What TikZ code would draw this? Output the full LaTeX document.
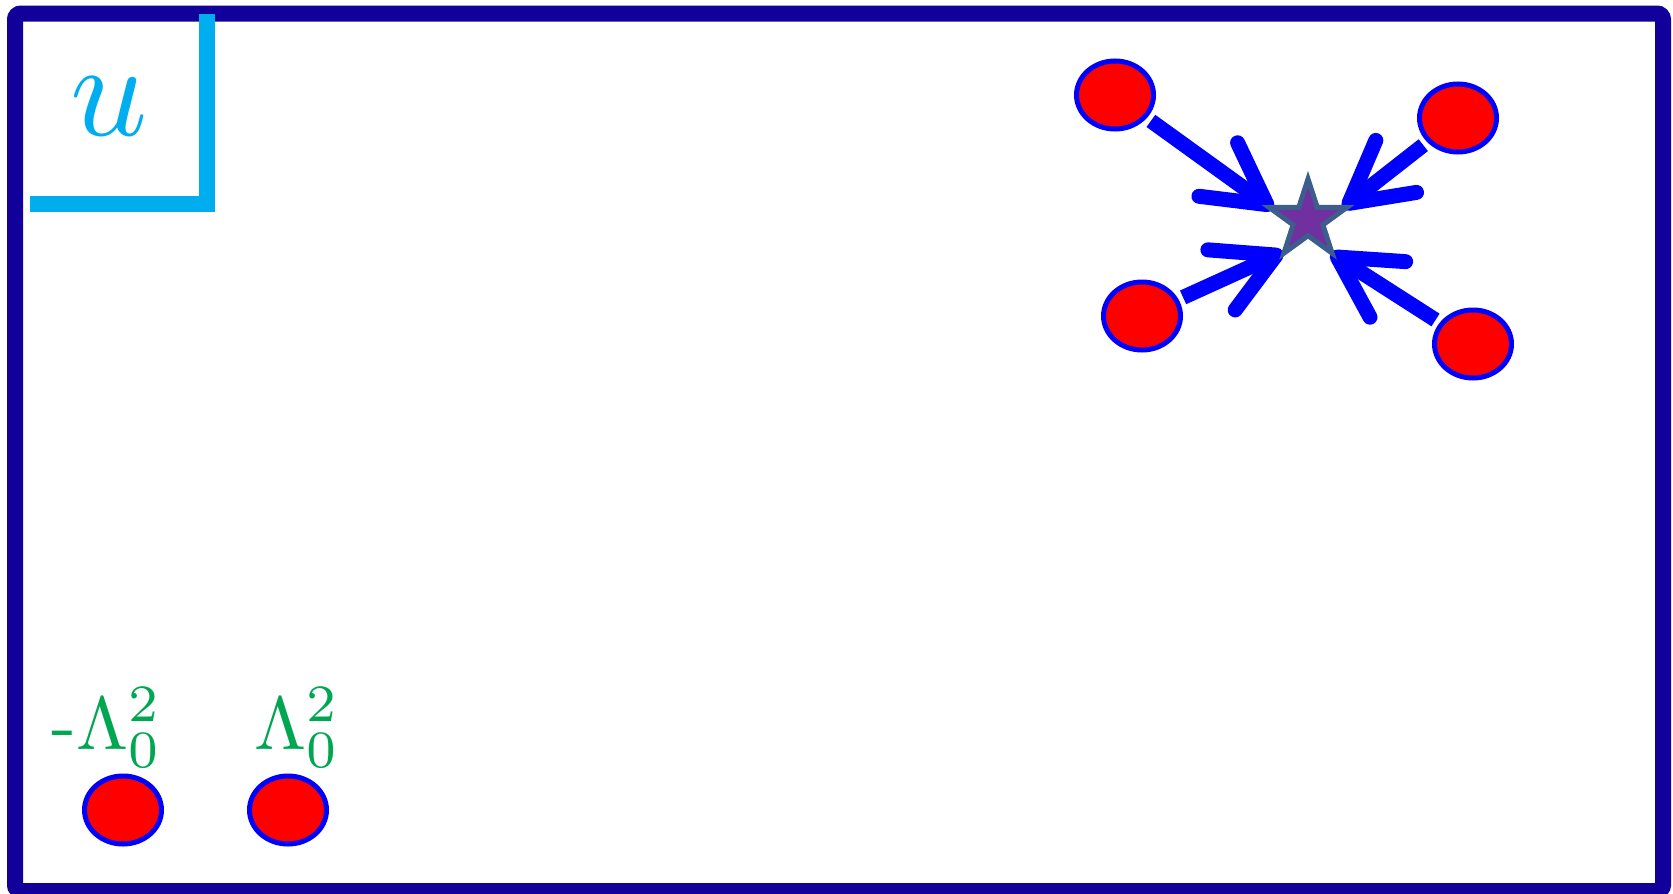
\documentclass[tikz,border=0pt]{standalone}
\usetikzlibrary{arrows.meta,shapes.geometric}
\definecolor{framecol}{RGB}{17,0,153}
\definecolor{cyanL}{RGB}{0,174,239}
\definecolor{lblgreen}{RGB}{0,166,81}
\definecolor{starfill}{RGB}{112,48,160}
\definecolor{starline}{RGB}{61,93,140}
\tikzset{
  dot/.style={ellipse,draw=blue,fill=red,line width=5pt,minimum width=77pt,minimum height=68pt,inner sep=0pt},
  pull/.style={draw=blue,line width=15pt,shorten <=5pt,-{Straight Barb[round,length=60pt,width=66pt]}},
  lbl/.style={text=lblgreen,inner sep=0pt,anchor=base west,scale=7.5}
}
\begin{document}
\begin{tikzpicture}[x=1pt,y=-1pt]
\useasboundingbox (0,0) rectangle (1673,894);
% frame
\draw[framecol,line width=16pt,rounded corners=6pt] (15,13.5) rectangle (1663,891);
% u corner label
\draw[cyanL,line width=16pt,line join=miter] (30,204) -- (207,204) -- (207,14);
\node[text=cyanL,inner sep=0pt,scale=13.5] (u) at (109,106) {$u$};
% bottom dots and labels
\node[dot] (b1) at (123,810) {};
\node[dot] (b2) at (288,810) {};
\node[lbl] (l1) at (50,749) {-$\Lambda_0^2$};
\node[lbl] (l2) at (253,749) {$\Lambda_0^2$};
% top right cluster
\node[dot] (e1) at (1115,95) {};
\node[dot] (e2) at (1458,118) {};
\node[dot] (e3) at (1142,316) {};
\node[dot] (e4) at (1473,344) {};
\draw[pull] (e1) -- (1273,209) coordinate (t1);
\draw[pull] (e2) -- (1343,208) coordinate (t2);
\draw[pull] (e3) -- (1283,252) coordinate (t3);
\draw[pull] (e4) -- (1331,253) coordinate (t4);
\node[star,star points=5,star point ratio=2.618,minimum size=82pt,inner sep=0pt,fill=starfill,draw=starline,line width=5pt] (s) at (1308,220) {};
\end{tikzpicture}
\end{document}
